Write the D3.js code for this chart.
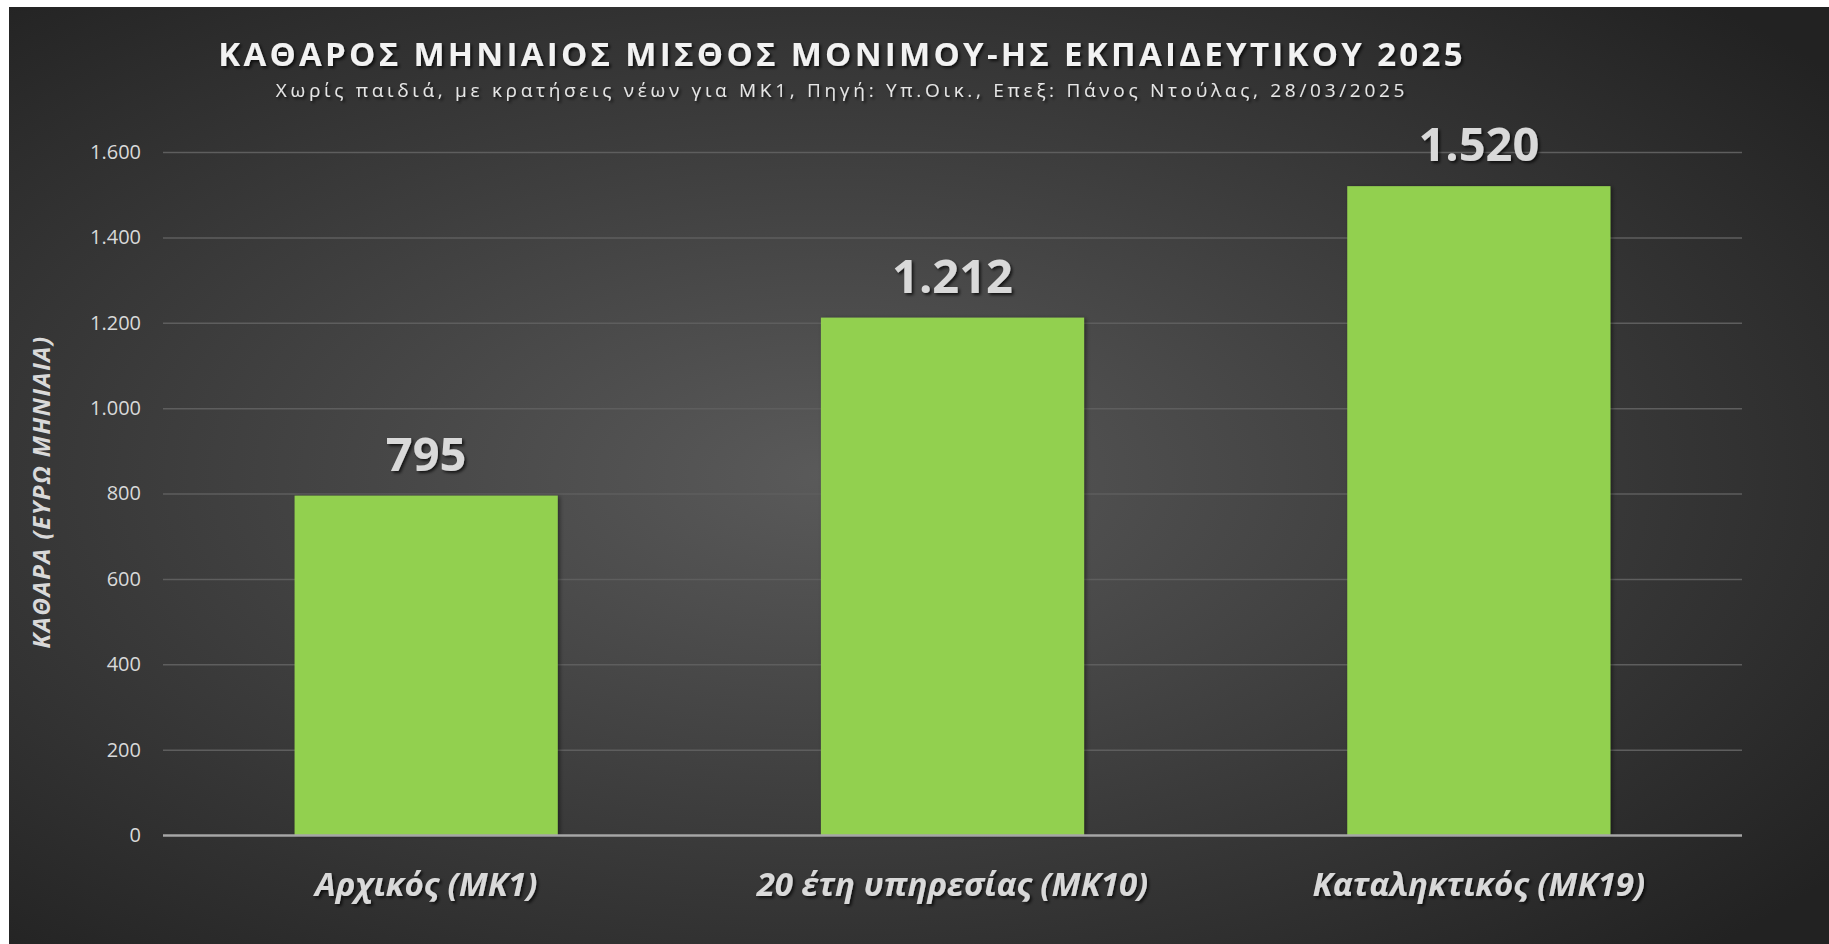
<!DOCTYPE html>
<html>
<head>
<meta charset="utf-8">
<script src="https://cdn.jsdelivr.net/npm/d3@7"></script>
<style>
  html, body { margin: 0; padding: 0; background: #fff; }
  svg { display: block; }
</style>
</head>
<body>
<div id="chart"></div>
<script>
var categories = ['Αρχικός (ΜΚ1)', '20 έτη υπηρεσίας (ΜΚ10)', 'Καταληκτικός (ΜΚ19)'];
var salaries = [795, 1212, 1520];
var yTicks = [0, 200, 400, 600, 800, 1000, 1200, 1400, 1600];
var title = 'ΚΑΘΑΡΟΣ ΜΗΝΙΑΙΟΣ ΜΙΣΘΟΣ ΜΟΝΙΜΟΥ-ΗΣ ΕΚΠΑΙΔΕΥΤΙΚΟΥ 2025';
var subtitle = 'Χωρίς παιδιά, με κρατήσεις νέων για ΜΚ1, Πηγή: Υπ.Οικ., Επεξ: Πάνος Ντούλας, 28/03/2025';
var yTitle = 'ΚΑΘΑΡΑ (ΕΥΡΩ ΜΗΝΙΑΙΑ)';

var W = 1829, H = 944;
var margin = { top: 152, right: 87, bottom: 109, left: 163 };
var font = '"Open Sans", "Noto Sans", sans-serif';

// greek style thousands: 1.520
var fmt = function(v) {
  return d3.format(',')(v).replace(/,/g, '.');
};

var svg = d3.select('#chart').append('svg')
  .attr('width', W).attr('height', H);

var defs = svg.append('defs');
var grad = defs.append('radialGradient')
  .attr('id', 'bg').attr('cx', '45%').attr('cy', '50%').attr('r', '70%');
grad.append('stop').attr('offset', '0%').attr('stop-color', '#5a5a5a');
grad.append('stop').attr('offset', '100%').attr('stop-color', '#222');

var shadow = defs.append('filter').attr('id', 'shadow')
  .attr('x', '-10%').attr('y', '-20%').attr('width', '120%').attr('height', '150%');
shadow.append('feDropShadow').attr('dx', 2).attr('dy', 2)
  .attr('stdDeviation', 1.5).attr('flood-color', '#000').attr('flood-opacity', 0.7);

var barShadow = defs.append('filter').attr('id', 'barShadow')
  .attr('x', '-10%').attr('y', '-10%').attr('width', '120%').attr('height', '120%');
barShadow.append('feDropShadow').attr('dx', 2).attr('dy', 1)
  .attr('stdDeviation', 2).attr('flood-color', '#000').attr('flood-opacity', 0.45);

svg.append('rect')
  .attr('x', 9).attr('y', 7)
  .attr('width', W - 9).attr('height', H - 7)
  .attr('fill', 'url(#bg)');

var x = d3.scaleBand()
  .domain(categories)
  .range([margin.left, W - margin.right])
  .paddingInner(0.5).paddingOuter(0.25);

var y = d3.scaleLinear()
  .domain([0, 1600])
  .range([H - margin.bottom, margin.top]);

// grid
svg.append('g')
  .selectAll('line')
  .data(yTicks.filter(function(d) { return d > 0; }))
  .enter().append('line')
  .attr('x1', margin.left).attr('x2', W - margin.right)
  .attr('y1', function(d) { return y(d) + 0.5; })
  .attr('y2', function(d) { return y(d) + 0.5; })
  .attr('stroke', '#5e5e5e').attr('stroke-width', 1.5);

// y axis labels
var yAxis = svg.append('g')
  .attr('transform', 'translate(' + margin.left + ',0)')
  .call(d3.axisLeft(y).tickValues(yTicks).tickFormat(fmt).tickSize(0).tickPadding(22));
yAxis.select('.domain').remove();
yAxis.selectAll('text')
  .attr('fill', '#d9d9d9')
  .attr('font-family', font)
  .attr('font-size', '20px');

// bars
svg.append('g')
  .selectAll('rect')
  .data(salaries)
  .enter().append('rect')
  .attr('x', function(d, i) { return x(categories[i]); })
  .attr('y', function(d) { return y(d); })
  .attr('width', x.bandwidth())
  .attr('height', function(d) { return y(0) - y(d); })
  .attr('fill', '#92d050')
  .attr('filter', 'url(#barShadow)');

// baseline
svg.append('line')
  .attr('x1', margin.left).attr('x2', W - margin.right)
  .attr('y1', y(0) + 0.5).attr('y2', y(0) + 0.5)
  .attr('stroke', '#a6a6a6').attr('stroke-width', 2.5);

// value labels
svg.append('g')
  .selectAll('text')
  .data(salaries)
  .enter().append('text')
  .text(function(d) { return fmt(d); })
  .attr('x', function(d, i) { return x(categories[i]) + x.bandwidth() / 2; })
  .attr('y', function(d) { return y(d) - 25; })
  .attr('text-anchor', 'middle')
  .attr('font-family', font)
  .attr('font-weight', 'bold')
  .attr('font-size', '47px')
  .attr('fill', '#d9d9d9')
  .attr('filter', 'url(#shadow)');

// x labels
svg.append('g')
  .selectAll('text')
  .data(categories)
  .enter().append('text')
  .text(function(d) { return d; })
  .attr('x', function(d) { return x(d) + x.bandwidth() / 2; })
  .attr('y', 896)
  .attr('text-anchor', 'middle')
  .attr('font-family', font)
  .attr('font-weight', 'bold')
  .attr('font-style', 'italic')
  .attr('font-size', '33px')
  .attr('fill', '#d9d9d9')
  .attr('filter', 'url(#shadow)');

// y title
svg.append('text')
  .text(yTitle)
  .attr('transform', 'translate(50,492) rotate(-90)')
  .attr('text-anchor', 'middle')
  .attr('font-family', font)
  .attr('font-weight', 'bold')
  .attr('font-style', 'italic')
  .attr('font-size', '24px')
  .attr('letter-spacing', '1.5px')
  .attr('fill', '#d9d9d9');

// titles
svg.append('text')
  .text(title)
  .attr('x', 842).attr('y', 66)
  .attr('text-anchor', 'middle')
  .attr('font-family', font)
  .attr('font-weight', 'bold')
  .attr('font-size', '33px')
  .attr('letter-spacing', '3.3px')
  .attr('fill', '#f2f2f2')
  .attr('filter', 'url(#shadow)');

svg.append('text')
  .text(subtitle)
  .attr('x', 842).attr('y', 97)
  .attr('text-anchor', 'middle')
  .attr('font-family', font)
  .attr('font-size', '19px')
  .attr('letter-spacing', '3.7px')
  .attr('fill', '#e6e6e6')
  .attr('filter', 'url(#shadow)');
</script>
</body>
</html>
